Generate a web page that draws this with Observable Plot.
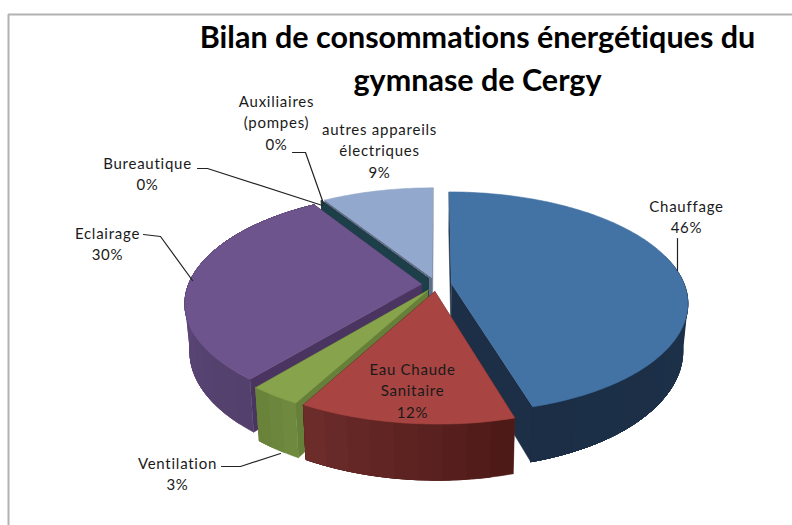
<!DOCTYPE html>
<html><head><meta charset="utf-8">
<script src="https://cdn.jsdelivr.net/npm/d3@7"></script>
<script src="https://cdn.jsdelivr.net/npm/@observablehq/plot@0.6"></script>
<style>html,body{margin:0;padding:0;background:#fff}svg{display:block;font-variant-ligatures:none}.lbl{letter-spacing:.75px}</style>
</head><body>
<script>
// Data
const names = ["Chauffage","Eau Chaude\nSanitaire","Ventilation","Eclairage","Bureautique","Auxiliaires\n(pompes)","autres appareils\nélectriques"];
const values = [45.6,12.4,3,30,0,0,9];
const titleLines = ["Bilan de consommations énergétiques du","gymnase de Cergy"];
// Styles
const topColors  = ["#4372a5","#a84442","#87a34b","#6e548c","#7d3f10","#1c3f4a","#92a8cd"];
const edgeColors = ["#1c2f47","#5a2422","#66803a","#4a3560","#5e3010","#1c3f4a","#5f6f8a"];
const rimFrom    = ["#1e3450","#4e1a18","#6f8a3e","#54406c","#5e3010","#1c3f4a","#5f6f8a"];
const rimTo      = ["#1b2e45","#702e2c","#66803a","#644e86","#5e3010","#1c3f4a","#5f6f8a"];
const paintOrder = [6,4,5,0,3,2,1];
// Layout
const labelX = [686,412,177,107,147,276,379];
const labelY = [215,389,472,242,172,121,149];
const leaders = [
  [[677,238],[677,270]],
  [],
  [[221,466],[240,466],[280,453]],
  [[143,234],[160,236],[192,280]],
  [[197,168],[207,168],[322,205]],
  [[292,152],[305,152],[323,203]],
  []
];
const cx=436, cy=284, R=233, Ry=107.5, k=0.17, explode=0.064, wallH=46, taper=0.02, skew=3;

function project(u,v,z){
  const s=1/(1-k*v);
  const lean=v>0?skew*v*v*v:0;
  return {x:cx+(R*u*s+lean)*(1-taper*z), y:cy+Ry*v*s+wallH*s*z};
}
const total=d3.sum(values), TAU=Math.PI*2;
let acc=0;
const slices=values.map((val,i)=>{
  const a0=acc/total*TAU; acc+=val; const a1=acc/total*TAU; const am=(a0+a1)/2;
  return {i,a0,a1,ou:explode*Math.sin(am),ov:-explode*Math.cos(am)};
});
const faces=[]; let fid=0;
function addFace(points,color){const id=fid++; for(const p of points) faces.push({face:id,x:p.x,y:p.y,color});}
for(const i of paintOrder){
  const sl=slices[i];
  const rim=(a,z)=>project(sl.ou+Math.sin(a),sl.ov-Math.cos(a),z);
  const apex=z=>project(sl.ou,sl.ov,z);
  // straight inner walls
  addFace([apex(0),rim(sl.a0,0),rim(sl.a0,1),apex(1)],edgeColors[i]);
  addFace([apex(0),rim(sl.a1,0),rim(sl.a1,1),apex(1)],edgeColors[i]);
  // curved outer wall, in overlapping bands
  const span=sl.a1-sl.a0, n=Math.max(1,Math.ceil(span/(TAU/72))), fine=Math.max(1,Math.ceil(span/(TAU/360)));
  const mix=d3.interpolateRgb(rimFrom[i],rimTo[i]);
  for(let j=0;j<n;j++){
    const b0=sl.a0+span*j/n, b1=sl.a1;
    if(Math.cos(sl.a0+span*(j+.5)/n)>0.25) continue;
    const m=Math.max(1,Math.ceil((b1-b0)/(TAU/360))), pts=[];
    for(let q=0;q<=m;q++) pts.push(rim(b0+(b1-b0)*q/m,0));
    for(let q=m;q>=0;q--) pts.push(rim(b0+(b1-b0)*q/m,1));
    addFace(pts,d3.color(mix(j/n)).formatHex());
  }
  // top
  const top=[apex(0)];
  for(let j=0;j<=fine;j++) top.push(rim(sl.a0+span*j/fine,0));
  addFace(top,topColors[i]);
}
const labels=names.map((n,i)=>({text:`${n}\n${Math.round(values[i])}%`,x:labelX[i],y:labelY[i]}));
const leaderRows=leaders.flatMap((pts,i)=>pts.map(p=>({id:i,x:p[0],y:p[1]})));

const chart=Plot.plot({
  width:792,height:525,margin:0,
  x:{domain:[0,792],range:[0,792],axis:null},
  y:{domain:[0,525],range:[0,525],axis:null},
  style:{fontFamily:"Lato, sans-serif",background:"#fff"},
  marks:[
    Plot.ruleY([14],{x1:8,x2:792,stroke:"#b2b2b2",strokeWidth:2}),
    Plot.ruleX([8],{y1:14,y2:525,stroke:"#b2b2b2",strokeWidth:2}),
    Plot.line(faces,{x:"x",y:"y",z:"face",fill:"color",stroke:"color",strokeWidth:0.6,curve:"linear"}),
    Plot.line(leaderRows,{x:"x",y:"y",z:"id",stroke:"#222",strokeWidth:1.2,curve:"linear"}),
    Plot.text(labels,{x:"x",y:"y",text:"text",fontSize:15,lineHeight:1.43,fill:"#1a1a1a",textAnchor:"middle",className:"lbl"}),
    Plot.text(titleLines,{x:[477,477],y:[38,81],text:d=>d,fontSize:30.5,fontWeight:700,fill:"#000",textAnchor:"middle"})
  ]
});
document.body.append(chart);
</script>
</body></html>
